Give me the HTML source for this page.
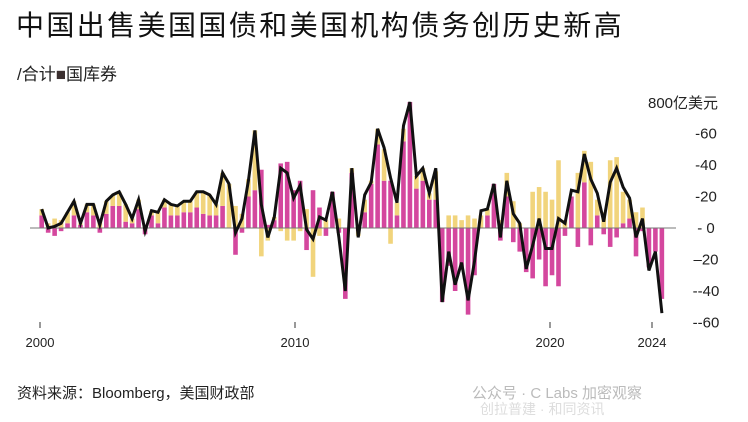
<!DOCTYPE html>
<html><head><meta charset="utf-8">
<style>
body{margin:0;background:#fff;}
#wrap{position:relative;width:748px;height:422px;overflow:hidden;background:#fff;font-family:"Liberation Sans","Noto Sans CJK SC",sans-serif;}
.t{position:absolute;white-space:nowrap;}
</style></head>
<body>
<div id="wrap">
<div class="t" style="left:16px;top:4px;font-size:28px;letter-spacing:2.4px;color:#111;">中国出售美国国债和美国机构债务创历史新高</div>
<div class="t" style="left:17px;top:60px;font-size:17px;color:#222;">/合计<span style="color:#3a2f2f">■</span>国库券</div>
<div class="t" style="left:648px;top:92px;font-size:15px;color:#222;">800亿美元</div>
<div class="t" style="left:17px;top:382px;font-size:15px;color:#222;">资料来源：Bloomberg，美国财政部</div>
<div class="t" style="left:472px;top:382px;font-size:15px;color:#bbb;">公众号 · C Labs 加密观察</div>
<div class="t" style="left:480px;top:399px;font-size:14px;color:#ddd;">创拉普建 · 和同资讯</div>
<svg id="chart" width="748" height="422" style="position:absolute;left:0;top:0"></svg>
</div>
<script>
const total=[12,0,1,3,10,17,3,15,15,2,17,21,23,15,6,18,-2,11,10,18,15,14,17,17,23,23,21,15,35,28,-3,6,30,62,15,-6,7,38,35,19,27,-1,-7,7,5,23,-6,-40,38,-6,21,29,63,51,32,16,65,80,33,38,22,38,-47,-15,-36,-22,-46,-21,11,12,28,-6,30,9,3,-26,-11,6,-13,-13,6,3,24,23,47,31,22,4,29,38,26,19,-6,6,-27,-15,-54];
const treasury=[8,-3,-5,-2,3,8,2,10,8,-3,9,14,14,4,3,12,-4,8,3,13,8,8,10,10,13,9,8,8,14,0,-17,-3,20,24,37,2,5,41,42,24,30,-14,24,13,-5,23,-3,-45,35,-2,10,28,53,30,30,8,55,80,25,30,18,18,-47,-24,-40,-25,-55,-30,0,8,28,-8,20,-9,-15,-28,-32,-20,-37,-30,-37,-5,20,-12,29,-11,8,-4,-12,-6,3,6,-18,-2,-25,-15,-45];
const agency=[4,3,6,5,7,9,1,5,7,5,8,7,9,11,3,6,2,3,7,5,7,6,7,7,10,14,13,7,21,28,14,9,11,38,-18,-8,2,-2,-8,-8,-2,12,-31,-5,5,0,6,0,3,-3,8,2,10,20,-10,8,8,0,8,8,4,18,0,8,8,5,8,6,8,4,0,5,15,17,3,0,23,26,23,18,43,5,0,35,20,42,10,10,43,45,20,12,10,13,0,0,0];
const yTicks=[60,40,20,0,-20,-40,-60];
const yTickLabels=["-60","-40","-20","- 0","–20","--40","--60"];
const xTickYears=[2000,2010,2020,2024];

const NS="http://www.w3.org/2000/svg";
const svg=document.getElementById('chart');
function y(v){return 228-v*1.575;}
function xi(i){return 41.7+i*6.46;}
function xYear(yr){return 40+(yr-2000)*25.5;}
function mk(tag,attrs){const e=document.createElementNS(NS,tag);for(const k in attrs)e.setAttribute(k,attrs[k]);svg.appendChild(e);return e;}
const bw=4.6;
for(let i=0;i<treasury.length;i++){
  const t=treasury[i],a=agency[i];
  let pos=0,neg=0;
  const r1=mk('rect',{x:xi(i)-bw/2,width:bw,fill:'#d4479e',y:t>=0?y(t):y(0),height:Math.abs(t)*1.575});
  
  
  if(t>=0)pos=t;else neg=t;
  let base=a>=0?pos:neg;
  const top=a>=0?y(base+a):y(base);
  const r2=mk('rect',{x:xi(i)-bw/2,width:bw,fill:'#f1d47c',y:top,height:Math.abs(a)*1.575});
  
  
}
const zl=mk('line',{x1:30,x2:676,y1:y(0),y2:y(0),stroke:'#777','stroke-width':1});


const pts=total.map((v,i)=>xi(i).toFixed(1)+','+y(v).toFixed(1)).join(' ');
const pl=mk('polyline',{points:pts,fill:'none',stroke:'#111','stroke-width':3,'stroke-linejoin':'miter'});


yTicks.forEach((v,k)=>{
  const t=mk('text',{x:706,y:y(v)+5,'font-size':15,'text-anchor':'middle',fill:'#222','font-family':'Liberation Sans, sans-serif'});
  t.textContent=yTickLabels[k];
  
  
});
xTickYears.forEach(yr=>{
  const x=xYear(yr);
  const l=mk('line',{x1:x,x2:x,y1:322,y2:328,stroke:'#333','stroke-width':1});
  
  
  const t=mk('text',{x:x,y:347,'font-size':13,'text-anchor':'middle',fill:'#222','font-family':'Liberation Sans, sans-serif'});
  t.textContent=String(yr);
  
  
});
</script>
</body></html>
